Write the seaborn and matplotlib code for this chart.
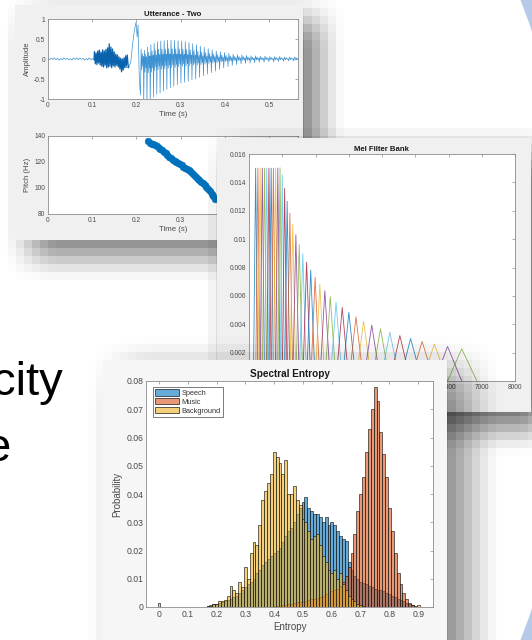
import numpy as np
import pandas as pd
import matplotlib
matplotlib.use("Agg")
import matplotlib.pyplot as plt
from matplotlib.patches import Rectangle, Ellipse, Patch
from matplotlib.colors import to_rgba
import seaborn as sns

# ------------------------------------------------------------------ data
# Utterance waveform: quiet lead-in, noisy burst, onset, voiced cycles
pre_amp = [0.01, -0.02, 0.02, -0.01, 0.03, -0.02, 0.02, -0.03, 0.01, -0.02,
           0.03, -0.01, 0.02, -0.02, 0.01, -0.03, 0.02, -0.01, 0.03, -0.02,
           0.02, -0.01, 0.02, -0.03, 0.01, -0.02, 0.03, -0.02, 0.01, -0.02]
noise_amp = [0.18, -0.12, 0.15, -0.14, 0.20, -0.10, 0.22, -0.15, 0.17, -0.18,
             0.23, -0.20, 0.20, -0.16, 0.24, -0.22, 0.28, -0.20, 0.38, -0.18,
             0.30, -0.22, 0.25, -0.17, 0.18, -0.20, 0.12, -0.15, 0.10, -0.20,
             0.05, -0.25, 0.02, -0.32, 0.00, -0.28, 0.03, -0.22, 0.08, -0.18,
             0.10, -0.15]
onset_t = [0.182, 0.187, 0.191, 0.195, 0.199, 0.2015, 0.2035, 0.2065]
onset_amp = [-0.22, -0.08, 0.35, 0.70, 0.92, 0.55, 0.85, -0.55]
cycle_t = [0.209, 0.2163, 0.2236, 0.2310, 0.2384, 0.2458, 0.2533, 0.2609,
           0.2686, 0.2764, 0.2843, 0.2923, 0.3004, 0.3086, 0.3169, 0.3253,
           0.3338, 0.3425, 0.3513, 0.3602, 0.3692, 0.3784, 0.3877, 0.3971,
           0.4067, 0.4164, 0.4262, 0.4362, 0.4463, 0.4566, 0.4670, 0.4775,
           0.4882, 0.4990, 0.5100, 0.5211, 0.5324, 0.5438, 0.5554, 0.5672]
cycle_neg = [-0.9, -1.1, -1.15, -1.1, -0.95, -0.88, -0.85, -0.8, -0.76, -0.72,
             -0.68, -0.64, -0.6, -0.58, -0.55, -0.52, -0.5, -0.46, -0.42, -0.38,
             -0.34, -0.3, -0.26, -0.22, -0.19, -0.16, -0.14, -0.12, -0.11, -0.10,
             -0.09, -0.08, -0.08, -0.07, -0.07, -0.06, -0.06, -0.05, -0.05, -0.05]
cycle_pos = [0.25, 0.22, 0.30, 0.36, 0.40, 0.43, 0.45, 0.46, 0.47, 0.47,
             0.46, 0.46, 0.45, 0.43, 0.41, 0.38, 0.35, 0.32, 0.29, 0.26,
             0.23, 0.20, 0.18, 0.16, 0.14, 0.12, 0.11, 0.10, 0.09, 0.08,
             0.08, 0.07, 0.07, 0.06, 0.06, 0.06, 0.05, 0.05, 0.05, 0.05]

# Pitch track
pitch_t = [0.226, 0.230, 0.234, 0.238, 0.242, 0.246, 0.250, 0.254, 0.258, 0.262,
           0.266, 0.270, 0.274, 0.278, 0.282, 0.286, 0.290, 0.294, 0.298, 0.302,
           0.306, 0.310, 0.314, 0.318, 0.322, 0.326, 0.330, 0.334, 0.338, 0.342,
           0.346, 0.350, 0.354, 0.358, 0.362, 0.366, 0.370, 0.374, 0.378]
pitch_hz = [136.5, 135, 134, 133.5, 133, 132, 131, 130, 129, 128,
            127, 125.5, 124, 123, 121.5, 120.5, 120, 119, 118.5, 117.5,
            116.5, 115.5, 114.5, 113.5, 113, 111.5, 110, 108.5, 107, 106,
            105, 104, 102.5, 101, 99, 97.5, 95.5, 93.5, 91.5]

# Mel filter bank: band edge frequencies (Hz) and peak heights
mel_edges = [133.33, 200.00, 266.67, 333.33, 400.00, 466.67, 533.33, 600.00,
             666.67, 733.33, 800.00, 866.67, 933.33, 999.76, 1070.91, 1147.13,
             1228.77, 1316.22, 1409.89, 1510.23, 1617.71, 1732.84, 1856.17,
             1988.27, 2129.77, 2281.33, 2443.69, 2617.60, 2803.89, 3003.44,
             3217.19, 3446.16, 3691.40, 3954.11, 4235.52, 4536.93, 4859.81,
             5205.68, 5576.15, 5972.98, 6398.06, 6853.39]
mel_peaks = [0.015, 0.015, 0.015, 0.015, 0.015, 0.015, 0.015, 0.015, 0.015,
             0.015, 0.015, 0.01503, 0.01454, 0.01357, 0.01267, 0.01183, 0.01104,
             0.01031, 0.00962, 0.00898, 0.00839, 0.00783, 0.00731, 0.00682,
             0.00637, 0.00595, 0.00555, 0.00518, 0.00484, 0.00452, 0.00422,
             0.00394, 0.00368, 0.00343, 0.00320, 0.00299, 0.00279, 0.00261,
             0.00243, 0.00227]

# Spectral entropy histograms (bin width 0.01)
speech_start = 0.17
speech_prob = [0.0005, 0.0008, 0.001, 0.0012, 0.0015, 0.0018, 0.002, 0.0025,
               0.003, 0.0035, 0.004, 0.005, 0.006, 0.007, 0.008, 0.009, 0.010,
               0.012, 0.013, 0.015, 0.016, 0.017, 0.018, 0.019, 0.020, 0.021,
               0.023, 0.025, 0.027, 0.028, 0.030, 0.033, 0.035, 0.037, 0.039,
               0.035, 0.034, 0.033, 0.033, 0.032, 0.030, 0.032, 0.029, 0.030,
               0.029, 0.027, 0.025, 0.024, 0.0235, 0.016, 0.013, 0.011, 0.010,
               0.009, 0.0085, 0.008, 0.0075, 0.007, 0.0065, 0.006, 0.006,
               0.0055, 0.005, 0.0045, 0.004, 0.0035, 0.003, 0.0025, 0.002,
               0.0015, 0.001, 0.0008]
music_start = 0.40
music_prob = [0.0003, 0.0004, 0.0005, 0.0006, 0.0008, 0.001, 0.0012, 0.0014,
              0.0016, 0.0018, 0.002, 0.0022, 0.0025, 0.0028, 0.003, 0.0033,
              0.0036, 0.004, 0.0045, 0.005, 0.0055, 0.006, 0.0065, 0.0075,
              0.009, 0.011, 0.014, 0.019, 0.026, 0.034, 0.040, 0.046, 0.055,
              0.063, 0.070, 0.078, 0.073, 0.062, 0.054, 0.046, 0.035, 0.027,
              0.019, 0.012, 0.008, 0.005, 0.003, 0.0015, 0.0008, 0.0004]
background_start = 0.00
background_prob = [0.0015, 0, 0, 0, 0, 0, 0, 0, 0, 0, 0, 0, 0, 0, 0, 0, 0,
                   0.0003, 0.0005, 0.001, 0.0012, 0.002, 0.002, 0.0025, 0.004,
                   0.0075, 0.006, 0.005, 0.009, 0.007, 0.014, 0.010, 0.019,
                   0.023, 0.022, 0.029, 0.038, 0.041, 0.044, 0.047, 0.055,
                   0.053, 0.051, 0.047, 0.052, 0.040, 0.040, 0.043, 0.038,
                   0.036, 0.031, 0.030, 0.027, 0.024, 0.025, 0.026, 0.022,
                   0.018, 0.016, 0.013, 0.012, 0.013, 0.010, 0.012, 0.008,
                   0.006, 0.004, 0.003, 0.002, 0.001, 0.0008, 0.0005, 0, 0, 0,
                   0, 0, 0, 0, 0, 0, 0, 0, 0, 0, 0, 0, 0, 0, 0, 0.0008]
hist_labels = ["Speech", "Music", "Background"]

# tick labels
time_ticks = [0, 0.1, 0.2, 0.3, 0.4, 0.5]
time_ticklabels = ["0", "0.1", "0.2", "0.3", "0.4", "0.5"]
amp_ticks = [-1, -0.5, 0, 0.5, 1]
amp_ticklabels = ["-1", "-0.5", "0", "0.5", "1"]
pitch_ticks = [80, 100, 120, 140]
mel_yticks = [0, 0.002, 0.004, 0.006, 0.008, 0.01, 0.012, 0.014, 0.016]
mel_yticklabels = ["0", "0.002", "0.004", "0.006", "0.008", "0.01", "0.012", "0.014", "0.016"]
mel_xticks = [0, 1000, 2000, 3000, 4000, 5000, 6000, 7000, 8000]
ent_xticks = [0, 0.1, 0.2, 0.3, 0.4, 0.5, 0.6, 0.7, 0.8, 0.9]
ent_xticklabels = ["0", "0.1", "0.2", "0.3", "0.4", "0.5", "0.6", "0.7", "0.8", "0.9"]
ent_yticks = [0, 0.01, 0.02, 0.03, 0.04, 0.05, 0.06, 0.07, 0.08]
ent_yticklabels = ["0", "0.01", "0.02", "0.03", "0.04", "0.05", "0.06", "0.07", "0.08"]

# ------------------------------------------------------------------ style
sns.set_theme(style="white")
plt.rcParams["font.family"] = ["Liberation Sans", "DejaVu Sans"]
W, H = 532, 640
fig = plt.figure(figsize=(W / 100, H / 100), dpi=100)
fig.patch.set_facecolor("white")

MATLAB = ["#0072BD", "#D95319", "#EDB120", "#7E2F8E", "#77AC30", "#4DBEEE", "#A2142F"]
SPINE = "#8c8c8c"
TXT = "#4a4a4a"


def px(l, t, r, b):
    return [l / W, 1 - b / H, (r - l) / W, (b - t) / H]


def layer(z):
    a = fig.add_axes([0, 0, 1, 1])
    a.set_xlim(0, W)
    a.set_ylim(H, 0)
    a.axis("off")
    a.patch.set_alpha(0)
    a.set_zorder(z)
    return a


def ramp(v, a, b, s):
    up = np.clip((v - (a - s)) / (2 * s), 0, 1)
    dn = np.clip(((b + s) - v) / (2 * s), 0, 1)
    up = up * up * (3 - 2 * up)
    dn = dn * dn * (3 - 2 * dn)
    return up * dn


def shadow(ax, box, dx, dy, s, strength, block=8):
    l, t, r, b = box
    ys = np.arange(0, H + block, block) + block / 2
    xs = np.arange(0, W + block, block) + block / 2
    a = strength * np.outer(ramp(ys, t + dy, b + dy, s), ramp(xs, l + dx, r + dx, s))
    a = np.repeat(np.repeat(a, block, 0), block, 1)[:H, :W]
    rgba = np.zeros((H, W, 4))
    rgba[..., 3] = a
    ax.imshow(rgba, extent=(0, W, H, 0), interpolation="nearest", aspect="auto", zorder=1)
    ax.set_xlim(0, W)
    ax.set_ylim(H, 0)


def style_axes(ax, tsize):
    for sp in ax.spines.values():
        sp.set_color(SPINE)
        sp.set_linewidth(0.6)
        sp.set_visible(True)
    ax.tick_params(direction="in", length=2.2, width=0.5, colors=SPINE, labelcolor=TXT,
                   labelsize=tsize, top=True, right=True, labeltop=False,
                   labelright=False, pad=2)
    ax.set_facecolor("white")
    ax.grid(False)


# ------------------------------------------------------------------ background
bg = layer(0)
bg.add_patch(Rectangle((0, 0), W, H, color="#b6c9e6", zorder=0))
bg.add_patch(Ellipse((0, 320), 1157, 1458, color="white", zorder=1))
bg.text(63, 395, "city", fontsize=34, color="black", ha="right", va="baseline", zorder=2)
bg.text(11, 461, "e", fontsize=34, color="black", ha="right", va="baseline", zorder=2)

# ------------------------------------------------------------------ figure 1
P1 = (15, 5, 303, 240)
L1 = layer(1)
shadow(L1, P1, 15, 15, 30, 0.55)
L1.add_patch(Rectangle((P1[0], P1[1]), P1[2] - P1[0], P1[3] - P1[1],
                       facecolor="#f0f0f0", edgecolor="none", zorder=2))

ax_w = fig.add_axes(px(48, 19, 298, 99))
ax_w.set_zorder(2)
pre_t = np.linspace(0, 0.104, len(pre_amp))
noise_t = np.linspace(0.105, 0.181, len(noise_amp))
wt = list(pre_t) + list(onset_t)
wa = list(pre_amp) + list(onset_amp)
periods = list(np.diff(cycle_t)) + [np.diff(cycle_t)[-1]]
for t0, P, lo, hi in zip(cycle_t, periods, cycle_neg, cycle_pos):
    wt += [t0, t0 + 0.2 * P, t0 + 0.4 * P, t0 + 0.55 * P, t0 + 0.75 * P, t0 + 0.9 * P]
    wa += [lo, hi, 0.3 * lo, 0.55 * hi, 0.2 * lo, 0.25 * hi]
sns.lineplot(x=np.array(wt), y=np.array(wa), estimator=None, sort=False, ax=ax_w,
             color="#3d92d3", lw=0.5)
sns.lineplot(x=np.concatenate([[pre_t[-1]], noise_t, [onset_t[0]]]),
             y=np.concatenate([[pre_amp[-1]], noise_amp, [onset_amp[0]]]),
             estimator=None, sort=False, ax=ax_w, color="#0a62ad", lw=0.9)
ax_w.set_xlim(0, 0.565)
ax_w.set_ylim(-1, 1)
ax_w.set_xticks(time_ticks, time_ticklabels)
ax_w.set_yticks(amp_ticks, amp_ticklabels)
style_axes(ax_w, 4.8)
ax_w.set_title("Utterance - Two", fontsize=5.6, fontweight="bold", pad=2.5, color="#1a1a1a")
ax_w.set_xlabel("Time (s)", fontsize=5.6, color=TXT, labelpad=1.5)
ax_w.set_ylabel("Amplitude", fontsize=5.6, color=TXT, labelpad=2)

ax_p = fig.add_axes(px(48, 136, 298, 214))
ax_p.set_zorder(2)
sns.scatterplot(x=pitch_t, y=pitch_hz, ax=ax_p, s=24, color="#0072BD",
                edgecolor="#0072BD", linewidth=0.3)
ax_p.set_xlim(0, 0.565)
ax_p.set_ylim(80, 140)
ax_p.set_xticks(time_ticks, time_ticklabels)
ax_p.set_yticks(pitch_ticks, [str(v) for v in pitch_ticks])
style_axes(ax_p, 4.8)
ax_p.set_xlabel("Time (s)", fontsize=5.6, color=TXT, labelpad=1.5)
ax_p.set_ylabel("Pitch (Hz)", fontsize=5.6, color=TXT, labelpad=2)

# ------------------------------------------------------------------ figure 2
P2 = (217, 138, 531, 412)
L2 = layer(3)
shadow(L2, P2, 15, 15, 30, 0.6)
L2.add_patch(Rectangle((P2[0], P2[1]), P2[2] - P2[0], P2[3] - P2[1],
                       facecolor="#f0f0f0", edgecolor="none", zorder=2))
ax_m = fig.add_axes(px(249, 154, 515, 381))
ax_m.set_zorder(4)
for j, pk in enumerate(mel_peaks):
    lo, ce, hi = mel_edges[j], mel_edges[j + 1], mel_edges[j + 2]
    sns.lineplot(x=[lo, ce, hi], y=[0, pk, 0], estimator=None, sort=False, ax=ax_m,
                 color=MATLAB[j % 7], lw=0.6, alpha=0.8)
ax_m.set_xlim(0, 8000)
ax_m.set_ylim(0, 0.016)
ax_m.set_xticks(mel_xticks, [str(v) for v in mel_xticks])
ax_m.set_yticks(mel_yticks, mel_yticklabels)
style_axes(ax_m, 4.8)
ax_m.set_title("Mel Filter Bank", fontsize=5.6, fontweight="bold", pad=2.5, color="#1a1a1a")

# ------------------------------------------------------------------ figure 3
P3 = (103, 360, 447, 660)
L3 = layer(5)
shadow(L3, P3, 20, 12, 38, 0.5)
L3.add_patch(Rectangle((P3[0], P3[1]), P3[2] - P3[0], P3[3] - P3[1],
                       facecolor="#f6f6f6", edgecolor="none", zorder=2))
ax_e = fig.add_axes(px(146, 381, 433, 607))
ax_e.set_zorder(6)
series = [(speech_start, speech_prob), (music_start, music_prob),
          (background_start, background_prob)]
for (start, vals), col in zip(series, MATLAB[:3]):
    df = pd.DataFrame({"entropy": np.round(start + 0.01 * np.arange(len(vals)), 3),
                       "prob": np.asarray(vals, dtype=float)})
    sns.histplot(data=df, x="entropy", weights="prob", binwidth=0.01,
                 binrange=(-0.005, 0.915), stat="count",
                 ax=ax_e, color=col, alpha=0.6, edgecolor="#1a1a1a", linewidth=0.45)
for p in ax_e.patches:
    if p.get_height() <= 1e-9:
        p.set_visible(False)
ax_e.set_xlim(-0.045, 0.951)
ax_e.set_ylim(0, 0.08)
ax_e.set_xticks(ent_xticks, ent_xticklabels)
ax_e.set_yticks(ent_yticks, ent_yticklabels)
style_axes(ax_e, 6.2)
ax_e.set_title("Spectral Entropy", fontsize=7.2, fontweight="bold", pad=3, color="#1a1a1a")
ax_e.set_xlabel("Entropy", fontsize=7, color=TXT, labelpad=2)
ax_e.set_ylabel("Probability", fontsize=7, color=TXT, labelpad=3)
handles = [Patch(facecolor=to_rgba(c, 0.6), edgecolor="#1a1a1a", linewidth=0.5)
           for c in MATLAB[:3]]
leg = ax_e.legend(handles, hist_labels, loc="upper left",
                  bbox_to_anchor=(0.024, 0.973), borderaxespad=0, fontsize=5.3,
                  frameon=True, fancybox=False, borderpad=0.3, handlelength=3.3,
                  handleheight=0.95, labelspacing=0.15, handletextpad=0.3)
leg.get_frame().set_edgecolor("#1a1a1a")
leg.get_frame().set_linewidth(0.5)
for t in leg.get_texts():
    t.set_color("#333333")

fig.savefig("out.png", dpi=100)
